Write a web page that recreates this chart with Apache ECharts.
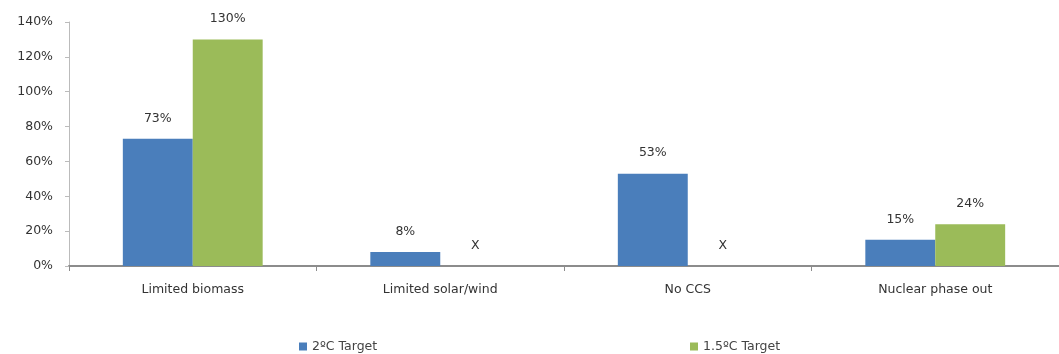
<!DOCTYPE html>
<html><head><meta charset="utf-8">
<script src="https://cdn.jsdelivr.net/npm/echarts@6/dist/echarts.min.js"></script>
<style>html,body{margin:0;padding:0;background:#fff}#c{width:1059px;height:354px}</style>
</head><body><div id="c"></div>
<script>
const categories = ['Limited biomass', 'Limited solar/wind', 'No CCS', 'Nuclear phase out'];
const seriesNames = ['2ºC Target', '1.5ºC Target'];
const target2 = [73, 8, 53, 15];
const target15 = [130, null, null, 24];
const yTicks = [0, 20, 40, 60, 80, 100, 120, 140];

function toData(arr) {
  return arr.map(v => v === null
    ? { value: 0, label: { formatter: 'X', distance: 14 } }
    : v);
}
const font = 'DejaVu Sans, Arial, sans-serif';
const fs = 12.5;
const chart = echarts.init(document.getElementById('c'));
chart.setOption({
  animation: false,
  textStyle: { fontFamily: font },
  grid: { left: 69, right: 0, top: 22, bottom: 88 },
  legend: [
    { data: [seriesNames[0]], left: 294, top: 335, itemWidth: 8, itemHeight: 8, itemGap: 4, icon: 'rect',
      textStyle: { fontSize: fs, color: '#444', fontFamily: font } },
    { data: [seriesNames[1]], left: 685, top: 335, itemWidth: 8, itemHeight: 8, itemGap: 4, icon: 'rect',
      textStyle: { fontSize: fs, color: '#444', fontFamily: font } }
  ],
  xAxis: {
    type: 'category', data: categories,
    axisLine: { lineStyle: { color: '#8c8c8c', width: 2 } },
    axisTick: { show: true, alignWithLabel: false, length: 5, lineStyle: { color: '#8c8c8c' } },
    axisLabel: { color: '#333', fontSize: fs, margin: 17 }
  },
  yAxis: {
    type: 'value', min: 0, max: 140, interval: 20,
    axisLine: { show: true, lineStyle: { color: '#bbbbbb' } },
    axisTick: { show: true, length: 4, lineStyle: { color: '#bbbbbb' } },
    splitLine: { show: false },
    axisLabel: { color: '#333', fontSize: fs, margin: 16, formatter: v => yTicks.includes(v) ? v + '%' : '' }
  },
  series: [
    { name: seriesNames[0], type: 'bar', data: toData(target2), barGap: '0%', barCategoryGap: '43.5%',
      itemStyle: { color: '#4a7ebb' },
      label: { show: true, position: 'top', distance: 14, color: '#333', fontSize: fs, formatter: p => p.value + '%' } },
    { name: seriesNames[1], type: 'bar', data: toData(target15),
      itemStyle: { color: '#9bbb59' },
      label: { show: true, position: 'top', distance: 14, color: '#333', fontSize: fs, formatter: p => p.value + '%' } }
  ]
});
</script></body></html>
